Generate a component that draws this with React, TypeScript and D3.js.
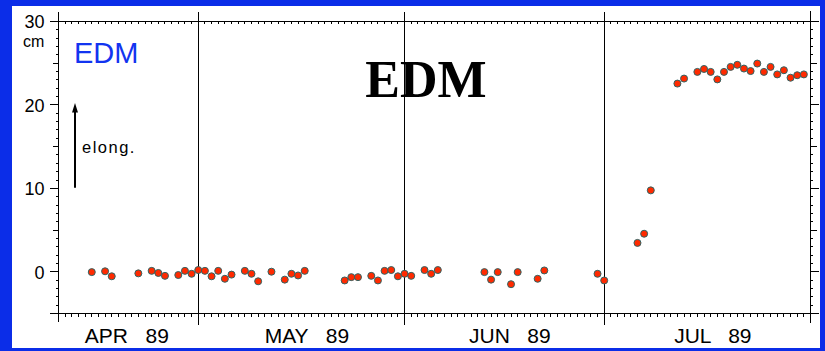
import React from "react";
import * as d3 from "d3";

// ---- data ----
const obsDates = [
  "1989-04-15", "1989-04-17", "1989-04-18", "1989-04-22", "1989-04-24", "1989-04-25",
  "1989-04-26", "1989-04-28", "1989-04-29", "1989-04-30", "1989-05-01", "1989-05-02",
  "1989-05-03", "1989-05-04", "1989-05-05", "1989-05-06", "1989-05-08", "1989-05-09",
  "1989-05-10", "1989-05-12", "1989-05-14", "1989-05-15", "1989-05-16", "1989-05-17",
  "1989-05-23", "1989-05-24", "1989-05-25", "1989-05-27", "1989-05-28", "1989-05-29",
  "1989-05-30", "1989-05-31", "1989-06-01", "1989-06-02", "1989-06-04", "1989-06-05",
  "1989-06-06", "1989-06-13", "1989-06-14", "1989-06-15", "1989-06-17", "1989-06-18",
  "1989-06-21", "1989-06-22", "1989-06-30", "1989-07-01", "1989-07-06", "1989-07-07",
  "1989-07-08", "1989-07-12", "1989-07-13", "1989-07-15", "1989-07-16", "1989-07-17",
  "1989-07-18", "1989-07-19", "1989-07-20", "1989-07-21", "1989-07-22", "1989-07-23",
  "1989-07-24", "1989-07-25", "1989-07-26", "1989-07-27", "1989-07-28", "1989-07-29",
  "1989-07-30", "1989-07-31",
];
const obsValues = [
  -0.1, 0.0, -0.6, -0.25, 0.05, -0.2,
  -0.55, -0.45, 0.05, -0.3, 0.15, 0.05,
  -0.6, 0.05, -0.9, -0.4, 0.05, -0.3,
  -1.2, -0.05, -1.0, -0.3, -0.5, 0.05,
  -1.1, -0.7, -0.7, -0.55, -1.1, 0.05,
  0.15, -0.6, -0.3, -0.55, 0.15, -0.3,
  0.15, -0.1, -1.0, -0.1, -1.55, -0.1,
  -0.9, 0.1, -0.3, -1.1, 3.4, 4.5,
  9.7, 22.5, 23.1, 23.9, 24.25, 23.9,
  23.0, 23.9, 24.5, 24.75, 24.3, 24.0,
  24.9, 23.9, 24.5, 23.6, 24.1, 23.2,
  23.5, 23.6,
];
const xDomain = ["1989-04-10", "1989-08-01"];
const monthStarts = ["1989-05-01", "1989-06-01", "1989-07-01"];
const monthNames = ["APR", "MAY", "JUN", "JUL"];
const yearLabel = "89";
const yDomain = [-5, 30];
const yTickValues = [0, 10, 20, 30];
const yUnit = "cm";
const cornerLabel = "EDM";
const titleLabel = "EDM";
const arrowLabel = "elong.";
const arrowRange = [10, 20];

const parse = d3.utcParse("%Y-%m-%d");

export default function App() {
  const W = 825;
  const H = 351;
  const left = 58, right = 810, top = 21, bottom = 313;

  const x = d3
    .scaleUtc()
    .domain(xDomain.map((s) => parse(s) as Date))
    .range([left, right]);
  const y = d3.scaleLinear().domain(yDomain).range([bottom, top]);

  const days = d3.utcDay.range(x.domain()[0], x.domain()[1]).slice(1);
  const minorY = d3.range(yDomain[0], yDomain[1] + 1, 1);

  const bounds = [x.domain()[0], ...monthStarts.map((s) => parse(s) as Date), x.domain()[1]];
  const monthLabelX = monthNames.map((_, i) => {
    const a = x(bounds[i]);
    const b = x(bounds[i + 1]);
    const full = d3.utcDay.count(bounds[i], bounds[i + 1]) >= 28;
    return (a + b) / 2 + (full ? 6 : -1);
  });

  const font = "'Liberation Sans', Arial, sans-serif";
  const px = (v: number) => Math.round(v) + 0.5;

  return (
    <div style={{ position: "fixed", left: 0, top: 0, width: W, height: H }}>
      <svg width={W} height={H} style={{ display: "block" }}>
        <rect x={0} y={0} width={W} height={H} fill="#0b2de8" />
        <rect x={12} y={6} width={808} height={342} fill="#ffffff" />

        <g stroke="#000" strokeWidth={1} shapeRendering="crispEdges">
          {/* frame */}
          <line x1={left - 8} x2={right + 9} y1={px(top)} y2={px(top)} />
          <line x1={left - 8} x2={right + 9} y1={px(bottom)} y2={px(bottom)} />
          <line x1={px(left)} x2={px(left)} y1={12} y2={322} />
          <line x1={px(right)} x2={px(right)} y1={11} y2={323} />
          {/* month boundaries */}
          {monthStarts.map((s) => (
            <line key={s} x1={px(x(parse(s) as Date))} x2={px(x(parse(s) as Date))} y1={12} y2={325} />
          ))}
          {/* day ticks */}
          {days.map((d, i) => (
            <g key={i}>
              <line x1={px(x(d))} x2={px(x(d))} y1={top} y2={top + 3} />
              <line x1={px(x(d))} x2={px(x(d))} y1={bottom} y2={bottom + 4} />
            </g>
          ))}
          {/* y ticks */}
          {minorY.map((v) => {
            const ll = v % 10 === 0 ? 8 : v % 5 === 0 ? 5 : 2.5;
            const rl = v % 10 === 0 ? 9 : v % 5 === 0 ? 6.5 : 2.5;
            return (
              <g key={v}>
                <line x1={left - ll} x2={left} y1={px(y(v))} y2={px(y(v))} />
                <line x1={right} x2={right + rl} y1={px(y(v))} y2={px(y(v))} />
              </g>
            );
          })}
        </g>

        {/* y tick labels */}
        {yTickValues.map((v) => (
          <text key={v} x={44.5} y={y(v) + 7.3} textAnchor="end" fontFamily={font} fontSize={18} fill="#000">
            {v}
          </text>
        ))}
        <text x={23} y={47} fontFamily={font} fontSize={16} fill="#000">
          {yUnit}
        </text>

        {/* month labels */}
        {monthNames.map((m, i) => (
          <text
            key={m}
            x={monthLabelX[i]}
            y={343}
            textAnchor="middle"
            fontFamily={font}
            fontSize={21}
            fill="#000"
            style={{ whiteSpace: "pre" }}
          >
            {m + "   " + yearLabel}
          </text>
        ))}

        {/* annotations */}
        <text x={74} y={63} fontFamily={font} fontSize={29} fill="#1234f0">
          {cornerLabel}
        </text>
        <text
          x={426}
          y={96.5}
          textAnchor="middle"
          fontFamily="'Liberation Serif', 'Times New Roman', serif"
          fontWeight="bold"
          fontSize={52}
          fill="#000"
        >
          {titleLabel}
        </text>
        <line x1={75} x2={75} y1={y(arrowRange[0])} y2={y(arrowRange[1]) + 6} stroke="#000" strokeWidth={2} />
        <path
          d={`M75,${y(arrowRange[1]) - 1.5} L72,${y(arrowRange[1]) + 8} L78,${y(arrowRange[1]) + 8} Z`}
          fill="#000"
        />
        <text x={82} y={153} fontFamily={font} fontSize={16.5} letterSpacing={1.5} fill="#000">
          {arrowLabel}
        </text>

        {/* month lines drawn over title as in reference */}
        <g stroke="#000" strokeWidth={1} shapeRendering="crispEdges">
          {monthStarts.map((s) => (
            <line key={s} x1={px(x(parse(s) as Date))} x2={px(x(parse(s) as Date))} y1={40} y2={110} />
          ))}
        </g>

        {/* observations */}
        <g>
          {obsDates.map((s, i) => (
            <circle
              key={s}
              cx={x(parse(s) as Date) + 0.5}
              cy={y(obsValues[i])}
              r={3.5}
              fill="#ff2a00"
              stroke="#2f6464"
              strokeWidth={1}
            />
          ))}
        </g>
      </svg>
    </div>
  );
}
